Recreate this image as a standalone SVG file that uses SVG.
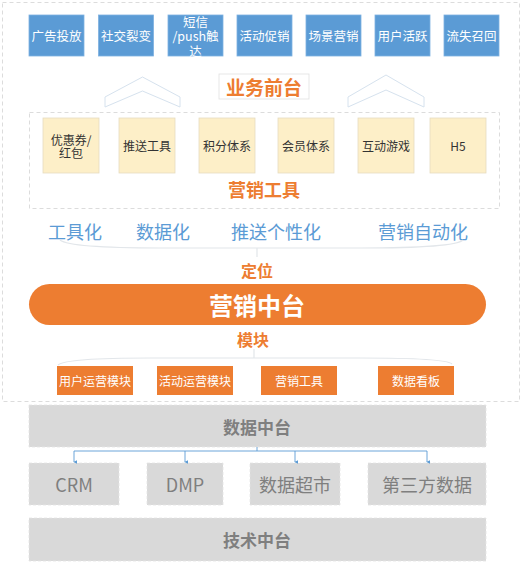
<svg xmlns="http://www.w3.org/2000/svg" width="522" height="563" viewBox="0 0 522 563">
<defs>
<marker id="arr" viewBox="0 0 6 6" refX="3" refY="5" markerWidth="4" markerHeight="4" orient="auto-start-reverse"><path d="M0,0 L6,0 L3,6 z" fill="#5b9bd5"/></marker>
</defs>
<style>
text{font-family:"Noto Sans CJK SC","Open Sans",sans-serif;text-anchor:middle;dominant-baseline:central}
.blue rect{fill:#5b9bd5;stroke:#7eb1e0;stroke-width:0.8}
.blue text{fill:#fff;font-size:12.5px}
.yel rect{fill:#fdefc8;stroke:#e6dcc0;stroke-width:0.8}
.yel text{fill:#333;font-size:12px}
.org rect{fill:#ed7d31}
.org text{fill:#fff;font-size:12px}
.gray rect{fill:#d9d9d9;stroke:#e4e4e4;stroke-width:0.8;stroke-dasharray:3 2}
.gray text{fill:#7f7f7f;font-size:18px}
.gray text.b{font-weight:bold;font-size:17px}
.ot{fill:#ed7d31;font-weight:bold}
.bt{fill:#5b9bd5;font-size:18px}
.chev{fill:#fff;stroke:#d6e2ee;stroke-width:1}
.arc{fill:none;stroke:#e2e6ea;stroke-width:1.2}
</style>
<rect x="0" y="0" width="522" height="563" fill="#fff"/>
<rect x="2.5" y="2.5" width="517" height="399" fill="none" stroke="#dcdcdc" stroke-dasharray="4 3"/>

<g id="front-channels" class="blue">
<g id="n-ad"><rect x="29" y="15" width="55" height="41"/><text x="56.5" y="35.5">广告投放</text></g>
<g id="n-social"><rect x="98.5" y="15" width="55" height="41"/><text x="126" y="35.5">社交裂变</text></g>
<g id="n-sms"><rect x="168" y="15" width="55" height="41"/><text x="195.5" y="21">短信</text><text x="195.5" y="35.5">/push触</text><text x="195.5" y="50">达</text></g>
<g id="n-promo"><rect x="237" y="15" width="55" height="41"/><text x="264.5" y="35.5">活动促销</text></g>
<g id="n-scene"><rect x="306" y="15" width="55" height="41"/><text x="333.5" y="35.5">场景营销</text></g>
<g id="n-active"><rect x="375" y="15" width="55" height="41"/><text x="402.5" y="35.5">用户活跃</text></g>
<g id="n-recall"><rect x="444" y="15" width="55" height="41"/><text x="471.5" y="35.5">流失召回</text></g>
</g>

<g id="chevrons">
<polygon class="chev" points="105,97 142.5,77 180,97 180,107 142.5,91 105,107"/>
<polygon class="chev" points="348,97 386,75 424,97 424,107 386,90 348,107"/>
</g>

<g id="label-front">
<rect x="219" y="74" width="90" height="25" fill="#fff" stroke="#e0e0e0" stroke-width="0.8"/>
<text class="ot" x="264" y="86.5" font-size="19">业务前台</text>
</g>

<g id="tools-group">
<rect x="29.5" y="112.5" width="470" height="96" fill="none" stroke="#dcdcdc" stroke-dasharray="4 3"/>
<g class="yel">
<g id="n-coupon"><rect x="43" y="118" width="56" height="55"/><text x="71" y="139">优惠券/</text><text x="71" y="152.5">红包</text></g>
<g id="n-push"><rect x="119" y="118" width="56" height="55"/><text x="147" y="145.5">推送工具</text></g>
<g id="n-points"><rect x="199" y="118" width="56" height="55"/><text x="227" y="145.5">积分体系</text></g>
<g id="n-member"><rect x="278" y="118" width="56" height="55"/><text x="306" y="145.5">会员体系</text></g>
<g id="n-game"><rect x="358" y="118" width="56" height="55"/><text x="386" y="145.5">互动游戏</text></g>
<g id="n-h5"><rect x="430" y="118" width="56" height="55"/><text x="458" y="145.5">H5</text></g>
</g>
<text class="ot" x="264" y="189" font-size="18">营销工具</text>
</g>

<g id="features">
<text class="bt" x="75" y="231">工具化</text>
<text class="bt" x="163" y="231">数据化</text>
<text class="bt" x="276" y="231">推送个性化</text>
<text class="bt" x="423" y="231">营销自动化</text>
<path class="arc" d="M60,240 Q70,248 160,248 L360,248 Q455,248 463,240"/>
<line class="arc" x1="257" y1="248" x2="257" y2="257"/>
</g>

<text class="ot" x="257" y="270" font-size="16">定位</text>

<g id="n-marketing-center">
<rect x="29" y="284" width="457" height="41" rx="20.5" fill="#ed7d31"/>
<text x="257" y="304.5" fill="#fff" font-size="24" font-weight="bold">营销中台</text>
</g>

<text class="ot" x="253" y="339" font-size="16">模块</text>

<g id="modules">
<path class="arc" d="M58,365 Q66,358 150,358 L360,358 Q446,358 452,364"/>
<line class="arc" x1="254" y1="349" x2="254" y2="358"/>
<g class="org">
<g id="n-user-op"><rect x="57" y="366" width="76" height="29"/><text x="95" y="380.5">用户运营模块</text></g>
<g id="n-act-op"><rect x="157" y="366" width="76" height="29"/><text x="195" y="380.5">活动运营模块</text></g>
<g id="n-tools"><rect x="261" y="366" width="76" height="29"/><text x="299" y="380.5">营销工具</text></g>
<g id="n-board"><rect x="378" y="366" width="76" height="29"/><text x="416" y="380.5">数据看板</text></g>
</g>
</g>

<g id="data" class="gray">
<g id="n-data-center"><rect x="29" y="405" width="457" height="42"/><text class="b" x="257" y="426">数据中台</text></g>
<g id="n-crm"><rect x="29" y="463" width="90" height="42"/><text x="74" y="484">CRM</text></g>
<g id="n-dmp"><rect x="147" y="463" width="76" height="42"/><text x="185" y="484">DMP</text></g>
<g id="n-market"><rect x="250" y="463" width="90" height="42"/><text x="295" y="484">数据超市</text></g>
<g id="n-third"><rect x="368" y="463" width="118" height="42"/><text x="427" y="484">第三方数据</text></g>
<g id="n-tech"><rect x="29" y="518" width="457" height="43"/><text class="b" x="257" y="539.5">技术中台</text></g>
</g>

<g id="connectors" fill="none" stroke="#5b9bd5" stroke-width="0.9">
<path d="M257,447 V451 M74,451 H427"/>
<path d="M74,451 V462" marker-end="url(#arr)"/>
<path d="M185,451 V462" marker-end="url(#arr)"/>
<path d="M295,451 V462" marker-end="url(#arr)"/>
<path d="M427,451 V462" marker-end="url(#arr)"/>
</g>
</svg>
